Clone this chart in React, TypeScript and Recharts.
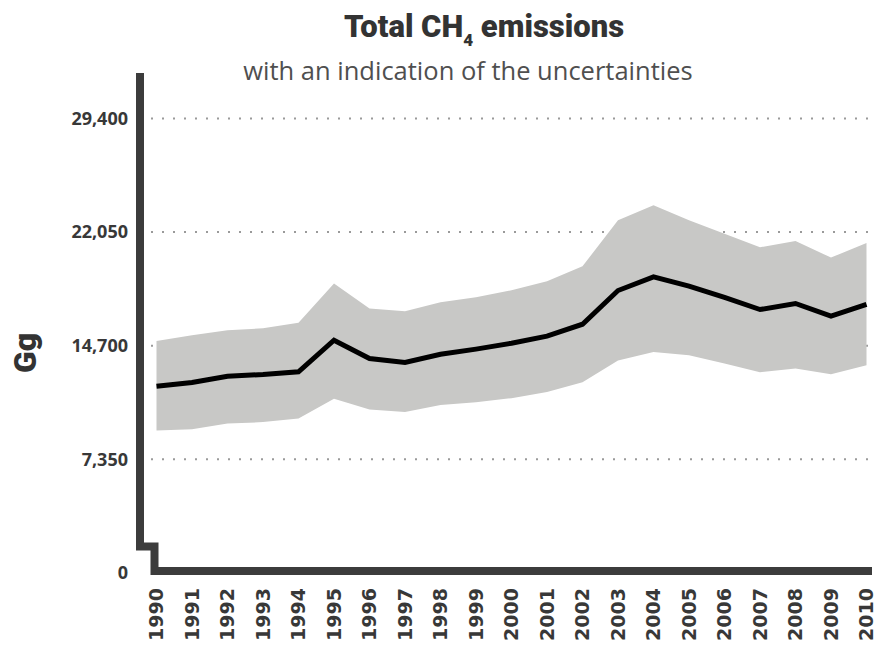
import React from 'react';
import { ComposedChart, Area, Line, XAxis, YAxis, CartesianGrid, Customized } from 'recharts';

const years = ['1990','1991','1992','1993','1994','1995','1996','1997','1998','1999','2000','2001','2002','2003','2004','2005','2006','2007','2008','2009','2010'];
const emissions = [12080, 12320, 12730, 12840, 13010, 15060, 13870, 13620, 14150, 14480, 14860, 15320, 16090, 18270, 19150, 18550, 17820, 17040, 17430, 16610, 17380];
const upperBound = [15010, 15380, 15700, 15830, 16180, 18720, 17100, 16930, 17510, 17840, 18290, 18870, 19840, 22810, 23780, 22810, 21950, 21070, 21480, 20400, 21350];
const lowerBound = [9220, 9300, 9670, 9760, 10000, 11270, 10580, 10420, 10860, 11050, 11310, 11700, 12340, 13740, 14300, 14090, 13550, 12990, 13230, 12860, 13440];
const yTicks = [0, 7350, 14700, 22050, 29400];
const Y_MAX = 32340;

const data = years.map((y, i) => ({
  year: y,
  value: emissions[i],
  range: [lowerBound[i], upperBound[i]],
}));

const W = 875;
const H = 646;
const PLOT_LEFT = 151;
const PLOT_TOP = 73;
const PLOT_BOTTOM = 573;
const PLOT_RIGHT = 872;

const AXIS_COLOR = '#3c3c3c';
const TEXT_COLOR = '#383838';

const fmt = (v: number) => v.toLocaleString('en-US');

const gridGen = (props: any) => {
  const top = props && props.offset && typeof props.offset.top === 'number' ? props.offset.top : PLOT_TOP;
  const h = props && props.offset && typeof props.offset.height === 'number' ? props.offset.height : PLOT_BOTTOM - PLOT_TOP;
  return yTicks.filter((t) => t > 0).map((t) => top + h * (1 - t / Y_MAX));
};

const XTick = (props: any) => {
  const { x, y, payload } = props;
  return (
    <text
      transform={`translate(${x},${y}) rotate(-90)`}
      textAnchor="end"
      dy="0.36em"
      fontFamily="DejaVu Sans"
      fontWeight={700}
      fontSize={19}
      fill={TEXT_COLOR}
    >
      {payload.value}
    </text>
  );
};

const Frame = () => (
  <g>
    <path
      d={`M140,${PLOT_TOP} V546.5 H154.5 V571 H${PLOT_RIGHT}`}
      stroke={AXIS_COLOR}
      strokeWidth={8}
      fill="none"
      strokeLinejoin="miter"
    />
    <text
      x={484}
      y={37}
      textAnchor="middle"
      fontFamily="Roboto"
      fontWeight={900}
      fontSize={31}
      fill="#333333"
    >
      Total CH
      <tspan fontSize={17} dy={9}>4</tspan>
      <tspan dy={-9}> emissions</tspan>
    </text>
    <text
      x={468}
      y={80}
      textAnchor="middle"
      fontFamily="Open Sans"
      fontWeight={400}
      fontSize={25.5}
      fill="#4f4f4f"
    >
      with an indication of the uncertainties
    </text>
    <text
      transform={`translate(36,353) rotate(-90)`}
      textAnchor="middle"
      fontFamily="Roboto"
      fontWeight={900}
      fontSize={32}
      fill="#333333"
    >
      Gg
    </text>
  </g>
);

export default function App() {
  return (
    <div style={{ position: 'absolute', left: 0, top: 0, width: W, height: H, background: '#fff' }}>
      <ComposedChart
        width={W}
        height={H}
        data={data}
        margin={{ top: PLOT_TOP, right: W - PLOT_RIGHT, bottom: 3, left: 0 }}
      >
        <CartesianGrid
          vertical={false}
          stroke="#9a9a9a"
          strokeWidth={2}
          strokeDasharray="2 9"
          horizontalCoordinatesGenerator={gridGen}
        />
        <XAxis
          dataKey="year"
          height={H - PLOT_BOTTOM - 3}
          padding={{ left: 5.5, right: 5.5 }}
          axisLine={false}
          tickLine={false}
          tickSize={0}
          tickMargin={15}
          interval={0}
          tick={<XTick />}
        />
        <YAxis
          width={PLOT_LEFT}
          domain={[0, Y_MAX]}
          ticks={yTicks}
          allowDataOverflow
          axisLine={false}
          tickLine={false}
          tickSize={0}
          tickMargin={23}
          tickFormatter={fmt}
          tick={{ fontFamily: 'Open Sans', fontWeight: 700, fontSize: 18, fill: TEXT_COLOR }}
        />
        <Area
          dataKey="range"
          stroke="none"
          fill="#c8c8c6"
          fillOpacity={1}
          isAnimationActive={false}
        />
        <Line
          dataKey="value"
          stroke="#000000"
          strokeWidth={5}
          dot={false}
          activeDot={false}
          isAnimationActive={false}
        />
        <Customized component={<Frame />} />
      </ComposedChart>
    </div>
  );
}
